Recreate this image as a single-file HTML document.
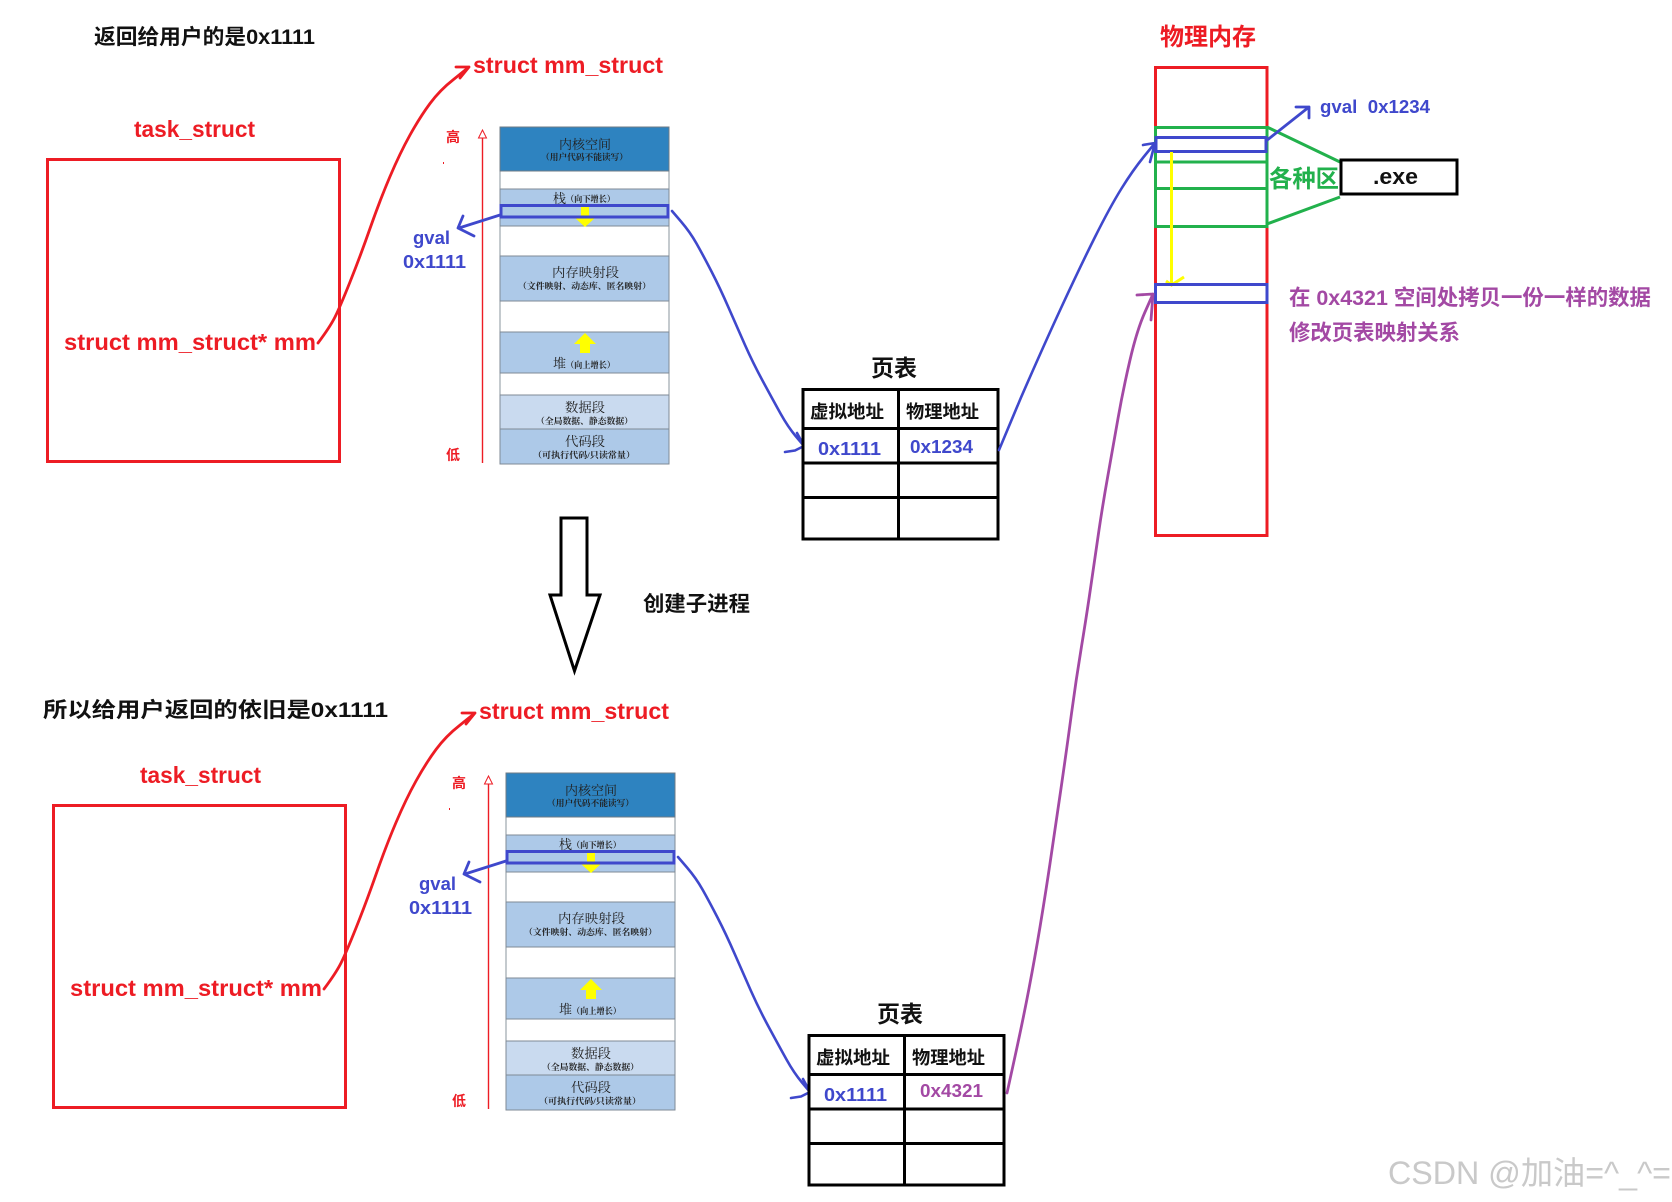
<!DOCTYPE html>
<html lang="zh">
<head>
<meta charset="utf-8">
<title>Copy-on-write diagram</title>
<style>
html,body{margin:0;padding:0;background:#fff;width:1672px;height:1202px;overflow:hidden}
svg{display:block}
text{font-family:"Liberation Sans","Noto Sans CJK SC",sans-serif;font-weight:700}
.k{fill:#111}
.r{fill:#ed1c24}
.b{fill:#3f48cc}
.p{fill:#a349a4}
.g{fill:#22b14c}
.s{font-family:"Liberation Serif","Noto Serif CJK SC",serif;fill:#222;font-weight:400}
.t{font-family:"Liberation Serif","Noto Serif CJK SC",serif;fill:#222;font-weight:700}
.ln{fill:none;stroke-linecap:round;stroke-linejoin:round}
</style>
</head>
<body>
<svg xmlns="http://www.w3.org/2000/svg" width="1672" height="1202" viewBox="0 0 1672 1202">
<rect width="1672" height="1202" fill="#fff"/>

<!-- TOP PROCESS -->
<g>
<text class="k" x="94" y="44" font-size="21" textLength="221" lengthAdjust="spacingAndGlyphs">返回给用户的是0x1111</text>
<text class="r" x="473" y="73" font-size="23" textLength="190" lengthAdjust="spacingAndGlyphs">struct mm_struct</text>
<text class="r" x="134" y="137" font-size="23" textLength="121" lengthAdjust="spacingAndGlyphs">task_struct</text>
<rect x="47.500" y="159.500" width="292" height="302" fill="none" stroke="#ed1c24" stroke-width="3"/>
<text class="r" x="64" y="350" font-size="23" textLength="252" lengthAdjust="spacingAndGlyphs">struct mm_struct* mm</text>
<path class="ln" stroke="#ed1c24" stroke-width="2.800" d="M318 343Q330 327 335 317Q340 307 350 282Q360 257 370 228.500Q380 200 390 176.500Q400 153 410 135Q420 117 430 103.500Q440 90 453.500 79.500L469 67M456 67L469 67L460 78"/>
<text class="b" x="413" y="244" font-size="18" textLength="37" lengthAdjust="spacingAndGlyphs">gval</text>
<text class="b" x="403" y="268" font-size="18" textLength="63" lengthAdjust="spacingAndGlyphs">0x1111</text>
<text class="r" x="446" y="142" font-size="14">高</text>
<text class="r" x="446" y="460" font-size="14">低</text>
<rect x="443" y="162" width="1" height="2" fill="#ed1c24"/>
<path d="M482.500 463V138" stroke="#ed1c24" stroke-width="1.400" fill="none"/>
<path d="M478.500 138L482.500 130L486.500 138Z" fill="#fff" stroke="#ed1c24" stroke-width="1"/>

<rect x="500" y="127" width="169" height="337" fill="#fff" stroke="#8a949e" stroke-width="1"/>
<rect x="500" y="127" width="169" height="44" fill="#2e83c0" stroke="#6f7b86"/>
<rect x="500" y="189" width="169" height="37" fill="#adc9e8" stroke="#7f8a96"/>
<rect x="500" y="256" width="169" height="45" fill="#adc9e8" stroke="#7f8a96"/>
<rect x="500" y="332" width="169" height="41" fill="#adc9e8" stroke="#7f8a96"/>
<rect x="500" y="395" width="169" height="34" fill="#c9daef" stroke="#7f8a96"/>
<rect x="500" y="429" width="169" height="35" fill="#adc9e8" stroke="#7f8a96"/>
<text class="s" x="559" y="149" font-size="13" textLength="52" lengthAdjust="spacingAndGlyphs">内核空间</text>
<text class="t" x="541" y="160" font-size="8.500" textLength="87" lengthAdjust="spacingAndGlyphs">（用户代码不能读写）</text>
<text class="s" x="553" y="203" font-size="13">栈</text>
<text class="t" x="566" y="202" font-size="8.500" textLength="49" lengthAdjust="spacingAndGlyphs">（向下增长）</text>
<text class="s" x="552" y="277" font-size="13" textLength="67" lengthAdjust="spacingAndGlyphs">内存映射段</text>
<text class="t" x="518" y="289" font-size="8.500" textLength="133" lengthAdjust="spacingAndGlyphs">（文件映射、动态库、匿名映射）</text>
<text class="s" x="553" y="368" font-size="13">堆</text>
<text class="t" x="566" y="368" font-size="8.500" textLength="49" lengthAdjust="spacingAndGlyphs">（向上增长）</text>
<text class="s" x="565" y="412" font-size="13" textLength="40" lengthAdjust="spacingAndGlyphs">数据段</text>
<text class="t" x="536" y="424" font-size="8.500" textLength="97" lengthAdjust="spacingAndGlyphs">（全局数据、静态数据）</text>
<text class="s" x="565" y="446" font-size="13" textLength="40" lengthAdjust="spacingAndGlyphs">代码段</text>
<text class="t" x="533" y="458" font-size="8.500" textLength="102" lengthAdjust="spacingAndGlyphs">（可执行代码/只读常量）</text>
<path d="M581 207H589V217H596L585 227L574 217H581Z" fill="#ffff00"/>
<path d="M585 333L596 344H590V353H580V344H574Z" fill="#ffff00"/>
<rect x="501" y="205.500" width="167" height="11.500" fill="none" stroke="#3f48cc" stroke-width="3"/>
<path class="ln" stroke="#3f48cc" stroke-width="2.800" d="M500 215L459 228M463 216L458 228L474 236"/>
<path class="ln" stroke="#3f48cc" stroke-width="2.600" d="M672 211L681 221.500Q690 232 696.500 243.500Q703 255 711.500 271.500Q720 288 728.500 307.500Q737 327 745 345Q753 363 763 381.500Q773 400 780.500 413.500Q788 427 796 436.500L804 446M785 452L795 450.500L804 446M797 433L804 446"/>

<text class="k" x="871" y="376" font-size="23">页表</text>
<rect x="803" y="389.500" width="195" height="149.500" fill="#fff" stroke="#000" stroke-width="3"/>
<path d="M803 428.500H998M803 463H998M803 497.500H998M898.500 390V539" stroke="#000" stroke-width="3" fill="none"/>
<text class="k" x="810" y="418" font-size="18" textLength="74" lengthAdjust="spacingAndGlyphs">虚拟地址</text>
<text class="k" x="906" y="418" font-size="18" textLength="73" lengthAdjust="spacingAndGlyphs">物理地址</text>
<text class="b" x="818" y="455" font-size="18" textLength="63" lengthAdjust="spacingAndGlyphs">0x1111</text>
<text class="b" x="910" y="453" font-size="18" textLength="63" lengthAdjust="spacingAndGlyphs">0x1234</text>
</g>

<!-- BOTTOM PROCESS -->
<text class="k" x="43" y="717" font-size="21" textLength="345" lengthAdjust="spacingAndGlyphs">所以给用户返回的依旧是0x1111</text>
<g transform="translate(6 646)">
<text class="r" x="473" y="73" font-size="23" textLength="190" lengthAdjust="spacingAndGlyphs">struct mm_struct</text>
<text class="r" x="134" y="137" font-size="23" textLength="121" lengthAdjust="spacingAndGlyphs">task_struct</text>
<rect x="47.500" y="159.500" width="292" height="302" fill="none" stroke="#ed1c24" stroke-width="3"/>
<text class="r" x="64" y="350" font-size="23" textLength="252" lengthAdjust="spacingAndGlyphs">struct mm_struct* mm</text>
<path class="ln" stroke="#ed1c24" stroke-width="2.800" d="M318 343Q330 327 335 317Q340 307 350 282Q360 257 370 228.500Q380 200 390 176.500Q400 153 410 135Q420 117 430 103.500Q440 90 453.500 79.500L469 67M456 67L469 67L460 78"/>
<text class="b" x="413" y="244" font-size="18" textLength="37" lengthAdjust="spacingAndGlyphs">gval</text>
<text class="b" x="403" y="268" font-size="18" textLength="63" lengthAdjust="spacingAndGlyphs">0x1111</text>
<text class="r" x="446" y="142" font-size="14">高</text>
<text class="r" x="446" y="460" font-size="14">低</text>
<rect x="443" y="162" width="1" height="2" fill="#ed1c24"/>
<path d="M482.500 463V138" stroke="#ed1c24" stroke-width="1.400" fill="none"/>
<path d="M478.500 138L482.500 130L486.500 138Z" fill="#fff" stroke="#ed1c24" stroke-width="1"/>

<rect x="500" y="127" width="169" height="337" fill="#fff" stroke="#8a949e" stroke-width="1"/>
<rect x="500" y="127" width="169" height="44" fill="#2e83c0" stroke="#6f7b86"/>
<rect x="500" y="189" width="169" height="37" fill="#adc9e8" stroke="#7f8a96"/>
<rect x="500" y="256" width="169" height="45" fill="#adc9e8" stroke="#7f8a96"/>
<rect x="500" y="332" width="169" height="41" fill="#adc9e8" stroke="#7f8a96"/>
<rect x="500" y="395" width="169" height="34" fill="#c9daef" stroke="#7f8a96"/>
<rect x="500" y="429" width="169" height="35" fill="#adc9e8" stroke="#7f8a96"/>
<text class="s" x="559" y="149" font-size="13" textLength="52" lengthAdjust="spacingAndGlyphs">内核空间</text>
<text class="t" x="541" y="160" font-size="8.500" textLength="87" lengthAdjust="spacingAndGlyphs">（用户代码不能读写）</text>
<text class="s" x="553" y="203" font-size="13">栈</text>
<text class="t" x="566" y="202" font-size="8.500" textLength="49" lengthAdjust="spacingAndGlyphs">（向下增长）</text>
<text class="s" x="552" y="277" font-size="13" textLength="67" lengthAdjust="spacingAndGlyphs">内存映射段</text>
<text class="t" x="518" y="289" font-size="8.500" textLength="133" lengthAdjust="spacingAndGlyphs">（文件映射、动态库、匿名映射）</text>
<text class="s" x="553" y="368" font-size="13">堆</text>
<text class="t" x="566" y="368" font-size="8.500" textLength="49" lengthAdjust="spacingAndGlyphs">（向上增长）</text>
<text class="s" x="565" y="412" font-size="13" textLength="40" lengthAdjust="spacingAndGlyphs">数据段</text>
<text class="t" x="536" y="424" font-size="8.500" textLength="97" lengthAdjust="spacingAndGlyphs">（全局数据、静态数据）</text>
<text class="s" x="565" y="446" font-size="13" textLength="40" lengthAdjust="spacingAndGlyphs">代码段</text>
<text class="t" x="533" y="458" font-size="8.500" textLength="102" lengthAdjust="spacingAndGlyphs">（可执行代码/只读常量）</text>
<path d="M581 207H589V217H596L585 227L574 217H581Z" fill="#ffff00"/>
<path d="M585 333L596 344H590V353H580V344H574Z" fill="#ffff00"/>
<rect x="501" y="205.500" width="167" height="11.500" fill="none" stroke="#3f48cc" stroke-width="3"/>
<path class="ln" stroke="#3f48cc" stroke-width="2.800" d="M500 215L459 228M463 216L458 228L474 236"/>
<path class="ln" stroke="#3f48cc" stroke-width="2.600" d="M672 211L681 221.500Q690 232 696.500 243.500Q703 255 711.500 271.500Q720 288 728.500 307.500Q737 327 745 345Q753 363 763 381.500Q773 400 780.500 413.500Q788 427 796 436.500L804 446M785 452L795 450.500L804 446M797 433L804 446"/>

<text class="k" x="871" y="376" font-size="23">页表</text>
<rect x="803" y="389.500" width="195" height="149.500" fill="#fff" stroke="#000" stroke-width="3"/>
<path d="M803 428.500H998M803 463H998M803 497.500H998M898.500 390V539" stroke="#000" stroke-width="3" fill="none"/>
<text class="k" x="810" y="418" font-size="18" textLength="74" lengthAdjust="spacingAndGlyphs">虚拟地址</text>
<text class="k" x="906" y="418" font-size="18" textLength="73" lengthAdjust="spacingAndGlyphs">物理地址</text>
<text class="b" x="818" y="455" font-size="18" textLength="63" lengthAdjust="spacingAndGlyphs">0x1111</text>
<text class="p" x="914" y="451" font-size="18" textLength="63" lengthAdjust="spacingAndGlyphs">0x4321</text>
</g>

<!-- Hollow down arrow -->
<path d="M561 518H587V595H600L574.500 671L550 595H561Z" fill="#fff" stroke="#000" stroke-width="3"/>
<text class="k" x="643" y="611" font-size="21" textLength="107" lengthAdjust="spacingAndGlyphs">创建子进程</text>

<!-- PHYSICAL MEMORY -->
<text class="r" x="1160" y="45" font-size="24" textLength="96" lengthAdjust="spacingAndGlyphs">物理内存</text>
<rect x="1155.500" y="67.500" width="111.500" height="468" fill="#fff" stroke="#ed1c24" stroke-width="3"/>
<rect x="1155.500" y="127.500" width="111.500" height="99" fill="none" stroke="#22b14c" stroke-width="3"/>
<path d="M1155.500 162H1267M1155.500 188.500H1267" stroke="#22b14c" stroke-width="3"/>
<rect x="1156" y="137.500" width="110" height="14" fill="none" stroke="#3f48cc" stroke-width="3"/>
<path d="M1267 127L1340 162M1267 224L1340 197" stroke="#22b14c" stroke-width="3" fill="none"/>
<text class="g" x="1269" y="187" font-size="24" textLength="70" lengthAdjust="spacingAndGlyphs">各种区</text>
<rect x="1341" y="160" width="116" height="34" fill="#fff" stroke="#000" stroke-width="3"/>
<text class="k" x="1373" y="184" font-size="22" textLength="45" lengthAdjust="spacingAndGlyphs">.exe</text>
<path class="ln" stroke="#3f48cc" stroke-width="2.800" d="M1266 141L1309 107M1296 107H1309V118"/>
<text class="b" x="1320" y="113" font-size="18" textLength="110" lengthAdjust="spacingAndGlyphs" xml:space="preserve">gval  0x1234</text>
<path d="M1171.500 152V285M1166 281L1171.500 285L1184 277" stroke="#ffff00" stroke-width="3" fill="none"/>
<rect x="1155.500" y="284.500" width="111.500" height="18" fill="none" stroke="#3f48cc" stroke-width="3"/>
<path class="ln" stroke="#3f48cc" stroke-width="2.600" d="M999 450L1021 397.500Q1043 347 1061.500 307Q1080 267 1095 237Q1110 207 1121.500 188.500Q1133 170 1144 156.500L1155 143M1143 145L1155 143L1150 162"/>
<path class="ln" stroke="#a349a4" stroke-width="2.800" d="M1007 1093L1015 1056.500Q1023 1020 1029 988.500Q1035 957 1040 927Q1045 897 1050 863.500Q1055 830 1061 788.500Q1067 747 1071.500 713.500Q1076 680 1081.500 646.500Q1087 613 1091 585Q1095 557 1099 530Q1103 503 1108 475Q1113 447 1118 418.500Q1123 390 1130 360Q1137 330 1145 312L1153 294M1137 295L1153 294L1151 320"/>
<text class="p" x="1289" y="305" font-size="21.500" textLength="362" lengthAdjust="spacingAndGlyphs">在 0x4321 空间处拷贝一份一样的数据</text>
<text class="p" x="1289" y="340" font-size="21.500" textLength="171" lengthAdjust="spacingAndGlyphs">修改页表映射关系</text>

<!-- Watermark -->
<text x="1388" y="1184" font-size="32" textLength="283" lengthAdjust="spacingAndGlyphs" style="font-weight:400;fill:#c9c9c9">CSDN @加油=^_^=</text>
</svg>
</body>
</html>
